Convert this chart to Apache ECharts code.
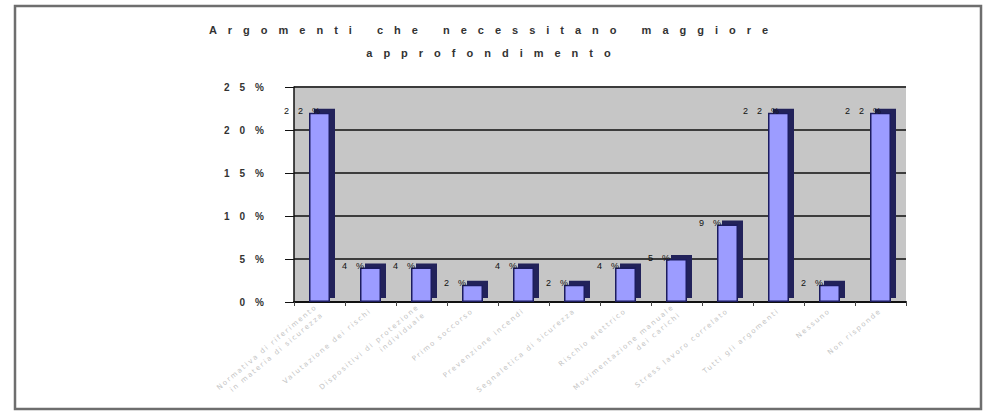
<!DOCTYPE html>
<html>
<head>
<meta charset="utf-8">
<script src="https://cdn.jsdelivr.net/npm/echarts@6/dist/echarts.min.js"></script>
<style>
  html, body { margin: 0; padding: 0; background: #fff; }
  #chart { width: 988px; height: 411px; }
  /* wide, spaced-out lettering for every label */
  #chart svg text { letter-spacing: 1em; }
  #chart svg text[style*="DejaVu"] { letter-spacing: 0.25em; }
</style>
</head>
<body>
<div id="chart"></div>
<script>
// Topics and share of answers (percent)
const categories = [
  'Normativa di riferimento\nin materia di sicurezza',
  'Valutazione dei rischi',
  'Dispositivi di protezione\nindividuale',
  'Primo soccorso',
  'Prevenzione incendi',
  'Segnaletica di sicurezza',
  'Rischio elettrico',
  'Movimentazione manuale\ndei carichi',
  'Stress lavoro correlato',
  'Tutti gli argomenti',
  'Nessuno',
  'Non risponde'
];
const values = [22, 4, 4, 2, 4, 2, 4, 5, 9, 22, 2, 22];
const yTicks = { min: 0, max: 25, interval: 5 };
const titleText = 'Argomenti che necessitano maggiore\napprofondimento';

const chart = echarts.init(document.getElementById('chart'), null, { renderer: 'svg' });

chart.setOption({
  animation: false,
  backgroundColor: '#ffffff',
  title: {
    text: titleText,
    left: 'center',
    top: 13,
    textStyle: {
      fontFamily: 'Liberation Sans, Arial, sans-serif',
      fontSize: 11,
      fontWeight: 'bold',
      color: '#333',
      lineHeight: 23
    }
  },
  graphic: [
    {
      type: 'rect',
      shape: { x: 15, y: 6, width: 966, height: 403 },
      style: { fill: 'none', stroke: '#6e6e6e', lineWidth: 2.5 },
      silent: true,
      z: 100
    }
  ],
  grid: {
    left: 294,
    right: 82,
    top: 87,
    bottom: 109,
    show: true,
    backgroundColor: '#c6c6c6',
    borderWidth: 0
  },
  xAxis: {
    type: 'category',
    data: categories,
    axisLine: { lineStyle: { color: '#111', width: 2 } },
    axisTick: { show: true, length: 4, lineStyle: { color: '#444' } },
    axisLabel: {
      interval: 0,
      rotate: 40,
      fontSize: 7,
      lineHeight: 10,
      margin: 8,
      color: '#c4c4c4',
      fontFamily: 'DejaVu Sans'
    }
  },
  yAxis: {
    type: 'value',
    min: yTicks.min,
    max: yTicks.max,
    interval: yTicks.interval,
    axisLine: { show: true, lineStyle: { color: '#111', width: 1.5 } },
    axisTick: { show: true, length: 9, lineStyle: { color: '#111' } },
    axisLabel: {
      formatter: '{value}%',
      fontSize: 10,
      fontWeight: 'bold',
      margin: 20,
      color: '#333',
      fontFamily: 'Liberation Sans, Arial, sans-serif'
    },
    splitLine: { show: true, lineStyle: { color: '#3c3c3c', width: 2 } }
  },
  series: [
    {
      type: 'bar',
      data: values,
      barWidth: 21,
      itemStyle: {
        color: '#9c9cff',
        borderColor: '#1c1c5e',
        borderWidth: 1.5,
        shadowColor: '#20205a',
        shadowBlur: 0,
        shadowOffsetX: 5,
        shadowOffsetY: -4
      },
      label: {
        show: true,
        position: 'top',
        offset: [-13, 8],
        formatter: '{c}%',
        fontSize: 9,
        color: '#111',
        fontFamily: 'Liberation Sans, Arial, sans-serif'
      },
      z: 2
    }
  ]
});
</script>
</body>
</html>
